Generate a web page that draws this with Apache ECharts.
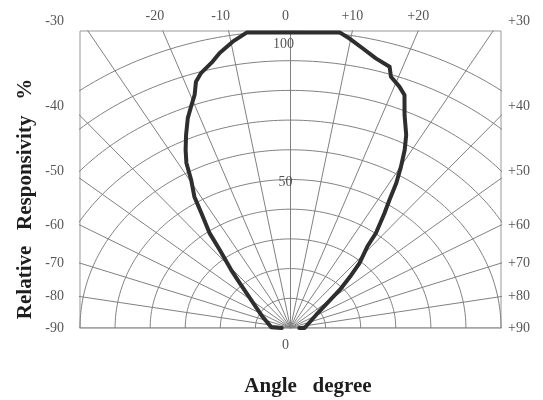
<!DOCTYPE html>
<html><head><meta charset="utf-8">
<script src="https://cdn.jsdelivr.net/npm/echarts@6/dist/echarts.min.js"></script>
<style>html,body{margin:0;padding:0;background:#fff}#c{width:543px;height:400px}</style>
</head><body><div id="c"></div>
<script>
// ---- data ----
const angleTicks = [-90,-80,-70,-60,-50,-40,-30,-20,-10,0,10,20,30,40,50,60,70,80,90];
const angleTickLabels = ['-90','-80','-70','-60','-50','-40','-30','-20','-10','0','+10','+20','+30','+40','+50','+60','+70','+80','+90'];
const radiusTicks = [10,20,30,40,50,60,70,80,90,100];
const radiusLabelValues = [0,50,100];
const radiusLabelTexts = ['0','50','100'];
const curveAngles = [-90,-87,-64.6,-50,-43.7,-40.9,-37.5,-35.8,-33.3,-31.8,-29.6,-28.1,-26.5,-24.6,-22.5,-20.6,-19.2,-18.0,-16.5,-13.9,-12.3,-9.7,-7.1,-4,0,4,8,9.8,12.3,15.0,17.8,18.7,20.9,22.5,24.4,26.9,28.5,30.1,31.7,33.2,34.7,37.3,38.6,42.0,44.2,47.6,51.3,59,90,90];
const curveValues = [2.5,5.5,8.8,14.6,21.0,25.8,33.1,39.5,46.3,52.0,57.3,63.0,67.0,71.5,76.5,80.2,83.1,87.2,89.6,92.4,94.8,97.8,100.3,99.7,99.5,99.7,100.5,98.9,96.4,94.0,92.4,89.3,87.0,84.9,78.7,72.9,68.2,62.8,57.4,51.5,47.1,40.2,35.1,29.4,24.8,19.0,13.5,8.5,4.0,2.5];
const yTitle = 'Relative   Responsivity   %';
const xTitle = 'Angle   degree';

// ---- helpers ----
const XHALF = 60, YMAX = 100;
const rad = d => d * Math.PI / 180;
const toXY = (a, r) => [r * Math.sin(rad(a)), r * Math.cos(rad(a))];
const FONT = '"Liberation Serif","DejaVu Serif",serif';
const GRID = '#808080';

const series = [];
// radial lines
angleTicks.forEach(a => {
  series.push({type:'line', silent:true, showSymbol:false, animation:false, clip:true,
    lineStyle:{color:GRID, width:1}, data:[toXY(a,0), toXY(a,140)], z:1});
});
// arcs
radiusTicks.forEach(r => {
  const pts = [];
  for (let a = -90; a <= 90; a += 1) pts.push(toXY(a, r));
  series.push({type:'line', silent:true, showSymbol:false, animation:false, clip:true,
    lineStyle:{color:GRID, width:1}, data:pts, z:1});
});
// response curve
series.push({type:'line', showSymbol:false, animation:false, clip:true, z:5,
  lineStyle:{color:'#2e2e2e', width:4, join:'round', cap:'round'},
  data: curveAngles.map((a,i) => toXY(a, curveValues[i]))});

// angle tick labels placed where each ray meets the frame
const labelData = angleTicks.map((a, i) => {
  const s = Math.sin(rad(a)), c = Math.cos(rad(a));
  const txt = angleTickLabels[i];
  if (Math.abs(a) < 30) {
    const x = YMAX * s / c;
    return {value:[x, YMAX], label:{show:true, formatter:txt, position:'top', distance:8,
      offset:[a < 0 ? -8 : (a > 0 ? 0 : -5), 0]}};
  }
  const y = Math.min(YMAX, c < 1e-9 ? 0 : XHALF * c / Math.abs(s));
  const left = a < 0;
  return {value:[left ? -XHALF : XHALF, y], label:{show:true, formatter:txt,
    position: left ? 'left' : 'right', distance: left ? 16 : 7,
    offset:[0, Math.abs(a) === 30 ? -10 : (Math.abs(a) === 40 ? -9 : (Math.abs(a) === 50 ? -7 : 0))]}};
});
series.push({type:'scatter', symbolSize:0, clip:false, silent:true, animation:false, z:6,
  label:{color:'#2a2a2a', fontFamily:FONT, fontSize:14}, data:labelData});
// radius labels on the centre line
const rOffsets = {0:[-5,17], 50:[-5,3], 100:[-7,13]};
series.push({type:'scatter', symbolSize:0, clip:false, silent:true, animation:false, z:6,
  label:{show:true, color:'#2a2a2a', fontFamily:FONT, fontSize:14, position:'inside'},
  data: radiusLabelValues.map((v,i) => ({value:[0, v], label:{formatter:radiusLabelTexts[i], offset:rOffsets[v]}}))});

const chart = echarts.init(document.getElementById('c'), null, {renderer:'canvas'});
chart.setOption({
  animation:false,
  backgroundColor:'#fff',
  grid:{left:80, right:42, top:31, bottom:72, show:true, borderColor:'#999', borderWidth:1, containLabel:false},
  xAxis:{type:'value', min:-XHALF, max:XHALF, show:false},
  yAxis:{type:'value', min:0, max:YMAX, show:false},
  series: series,
  graphic:[
    {type:'text', x:26, y:199, rotation:Math.PI/2, z:10,
      style:{text:yTitle, fontFamily:FONT, fontWeight:'bold', fontSize:21, fill:'#1e1e1e', align:'center', verticalAlign:'middle'}},
    {type:'text', x:308, y:387, z:10,
      style:{text:xTitle, fontFamily:FONT, fontWeight:'bold', fontSize:21, fill:'#1e1e1e', align:'center', verticalAlign:'middle'}}
  ]
});
</script></body></html>
